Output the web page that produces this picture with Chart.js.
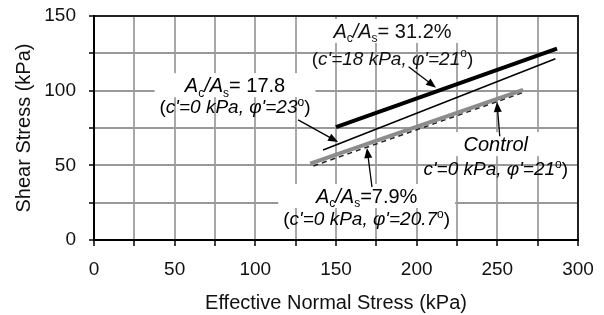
<!DOCTYPE html>
<html lang="en">
<head>
<meta charset="UTF-8">
<title>Shear Stress vs Effective Normal Stress</title>
<script src="https://cdn.jsdelivr.net/npm/chart.js"></script>
<style>
    * { margin: 0; padding: 0; box-sizing: border-box; }
    body { background: #ffffff; width: 604px; height: 315px; overflow: hidden; }
    #wrap { position: relative; width: 604px; height: 315px; }
</style>
</head>
<body>
<div id="wrap"><canvas id="shearChart"></canvas></div>
<script>
    // failure envelopes (kPa)
    const thickX = [150, 287];      // Ac/As = 31.2%
    const thickY = [75.6, 128.2];
    const thinX = [142, 286];       // Ac/As = 17.8
    const thinY = [60.3, 121.4];
    const grayX = [134, 266];       // Ac/As = 7.9%
    const grayY = [51.2, 100.6];
    const controlX = [136, 266];    // Control
    const controlY = [49.6, 98.8];

    const xTicks = [0, 50, 100, 150, 200, 250, 300];
    const yTicks = [0, 50, 100, 150];

    const FONT = 'Arial, "Liberation Sans", sans-serif';
    const INK = '#111111';

    const toPoints = (xs, ys) => xs.map((x, i) => ({ x: x, y: ys[i] }));

    // labels: each line is a list of [text, style]; n normal, i italic, s subscript, o superscript
    const labels = [
        {
            x: 185, y1: 135.3, y2: 117.5,
            line1: [['A', 'i'], ['c', 's'], ['/', 'i'], ['A', 'i'], ['s', 's'], ['= 31.2%', 'n']],
            line2: [['(', 'n'], ['c\'=18 kPa, \u03c6\'=21', 'i'], ['o', 'o'], [')', 'n']],
            arrow: [195, 116, 212, 102]
        },
        {
            x: 87.4, y1: 99, y2: 85,
            line1: [['A', 'i'], ['c', 's'], ['/', 'i'], ['A', 'i'], ['s', 's'], ['= 17.8', 'n']],
            line2: [['(', 'n'], ['c\'=0 kPa, \u03c6\'=23', 'i'], ['o', 'o'], [')', 'n']],
            arrow: [126.5, 80.4, 151.3, 65.6]
        },
        {
            x: 169, y1: 24.8, y2: 10,
            line1: [['A', 'i'], ['c', 's'], ['/', 'i'], ['A', 'i'], ['s', 's'], ['=7.9%', 'n']],
            line2: [['(', 'n'], ['c\'=0 kPa, \u03c6\'=20.7', 'i'], ['o', 'o'], [')', 'n']],
            arrow: [172.3, 35.5, 169.2, 61.6]
        },
        {
            x: 249, y1: 59.5, y2: 43.5,
            line1: [['Control', 'i']],
            line2: [['c\'=0 kPa, \u03c6\'=21', 'i'], ['o', 'o'], [')', 'n']],
            arrow: [251.5, 69.5, 249.8, 92.4]
        }
    ];

    function segFont(style, size) {
        if (style === 'i') return 'italic ' + size + 'px ' + FONT;
        if (style === 's' || style === 'o') return Math.round(size * 0.62) + 'px ' + FONT;
        return size + 'px ' + FONT;
    }

    function lineWidth(ctx, segs, size) {
        let w = 0;
        segs.forEach(s => { ctx.font = segFont(s[1], size); w += ctx.measureText(s[0]).width; });
        return w;
    }

    function drawLine(ctx, segs, cx, base, size) {
        let x = cx - lineWidth(ctx, segs, size) / 2;
        ctx.textAlign = 'left';
        ctx.textBaseline = 'alphabetic';
        segs.forEach(s => {
            ctx.font = segFont(s[1], size);
            let dy = 0;
            if (s[1] === 's') dy = size * 0.22;
            if (s[1] === 'o') dy = -size * 0.38;
            ctx.fillText(s[0], x, base + dy);
            x += ctx.measureText(s[0]).width;
        });
    }

    function drawArrow(ctx, x1, y1, x2, y2) {
        const ang = Math.atan2(y2 - y1, x2 - x1);
        const len = 10, half = 4;
        ctx.strokeStyle = '#000';
        ctx.lineWidth = 1.3;
        ctx.beginPath();
        ctx.moveTo(x1, y1);
        ctx.lineTo(x2 - Math.cos(ang) * len * 0.8, y2 - Math.sin(ang) * len * 0.8);
        ctx.stroke();
        ctx.fillStyle = '#000';
        ctx.beginPath();
        ctx.moveTo(x2, y2);
        ctx.lineTo(x2 - Math.cos(ang) * len - Math.sin(ang) * half, y2 - Math.sin(ang) * len + Math.cos(ang) * half);
        ctx.lineTo(x2 - Math.cos(ang) * len + Math.sin(ang) * half, y2 - Math.sin(ang) * len - Math.cos(ang) * half);
        ctx.closePath();
        ctx.fill();
    }

    // white boxes behind labels, frame, text and arrows
    const annotate = {
        id: 'annotate',
        beforeDatasetsDraw(chart) {
            const ctx = chart.ctx, xs = chart.scales.x, ys = chart.scales.y;
            ctx.save();
            labels.forEach(l => {
                const cx = xs.getPixelForValue(l.x);
                const b1 = ys.getPixelForValue(l.y1);
                const w = Math.max(lineWidth(ctx, l.line1, 20), lineWidth(ctx, l.line2, 19)) + 10;
                ctx.fillStyle = '#ffffff';
                ctx.fillRect(cx - w / 2, b1 - 19, w, 24);
            });
            ctx.restore();
        },
        afterDatasetsDraw(chart) {
            const ctx = chart.ctx, xs = chart.scales.x, ys = chart.scales.y;
            const a = chart.chartArea;
            ctx.save();
            ctx.strokeStyle = '#222';
            ctx.lineWidth = 2;
            ctx.beginPath();
            ctx.moveTo(a.left, a.top);
            ctx.lineTo(a.right, a.top);
            ctx.lineTo(a.right, a.bottom);
            ctx.stroke();
            ctx.fillStyle = INK;
            labels.forEach(l => {
                const cx = xs.getPixelForValue(l.x);
                drawLine(ctx, l.line1, cx, ys.getPixelForValue(l.y1), 20);
                drawLine(ctx, l.line2, cx, ys.getPixelForValue(l.y2), 19);
                drawArrow(ctx,
                    xs.getPixelForValue(l.arrow[0]), ys.getPixelForValue(l.arrow[1]),
                    xs.getPixelForValue(l.arrow[2]), ys.getPixelForValue(l.arrow[3]));
            });
            ctx.restore();
        }
    };

    const ctx = document.getElementById('shearChart').getContext('2d');

    new Chart(ctx, {
        type: 'scatter',
        data: {
            datasets: [
                {
                    label: 'Ac/As = 31.2%',
                    data: toPoints(thickX, thickY),
                    showLine: true,
                    borderColor: '#000000',
                    borderWidth: 4,
                    pointRadius: 0
                },
                {
                    label: 'Ac/As = 17.8',
                    data: toPoints(thinX, thinY),
                    showLine: true,
                    borderColor: '#000000',
                    borderWidth: 1.5,
                    pointRadius: 0
                },
                {
                    label: 'Ac/As = 7.9%',
                    data: toPoints(grayX, grayY),
                    showLine: true,
                    borderColor: '#8c8c8c',
                    borderWidth: 4,
                    pointRadius: 0
                },
                {
                    label: 'Control',
                    data: toPoints(controlX, controlY),
                    showLine: true,
                    borderColor: '#222222',
                    borderWidth: 1.5,
                    borderDash: [5, 4],
                    pointRadius: 0
                }
            ]
        },
        options: {
            responsive: true,
            maintainAspectRatio: false,
            animation: false,
            layout: { padding: { left: 0, right: 26, top: 16, bottom: 0 } },
            plugins: {
                legend: { display: false },
                tooltip: { enabled: false }
            },
            scales: {
                x: {
                    type: 'linear',
                    min: 0,
                    max: 300,
                    afterBuildTicks: s => { s.ticks = []; for (let v = 0; v <= 300; v += 25) s.ticks.push({ value: v }); },
                    ticks: {
                        color: INK,
                        font: { size: 19, family: FONT },
                        padding: 12,
                        maxRotation: 0,
                        autoSkip: false,
                        callback: v => xTicks.includes(v) ? String(v) : ''
                    },
                    grid: { color: '#a8a8a8', lineWidth: 2, tickColor: '#000', tickWidth: 1.5, tickLength: 6 },
                    border: { color: '#000', width: 2, z: 1 },
                    title: {
                        display: true,
                        text: 'Effective Normal Stress (kPa)',
                        color: INK,
                        font: { size: 20, family: FONT },
                        padding: { top: 6, bottom: 0 }
                    },
                    afterFit: s => { s.height = 75; s.paddingLeft = 0; s.paddingRight = 0; }
                },
                y: {
                    type: 'linear',
                    min: 0,
                    max: 150,
                    afterBuildTicks: s => { s.ticks = []; for (let v = 0; v <= 150; v += 25) s.ticks.push({ value: v }); },
                    ticks: {
                        color: INK,
                        font: { size: 19, family: FONT },
                        padding: 13,
                        autoSkip: false,
                        callback: v => yTicks.includes(v) ? String(v) : ''
                    },
                    grid: { color: '#999999', lineWidth: 2, tickColor: '#000', tickWidth: 1.5, tickLength: 5 },
                    border: { color: '#000', width: 2, z: 1 },
                    title: {
                        display: true,
                        text: 'Shear Stress (kPa)',
                        color: INK,
                        font: { size: 20, family: FONT },
                        padding: { top: 12, bottom: 0 }
                    },
                    afterFit: s => { s.width = 94; s.paddingTop = 0; s.paddingBottom = 0; }
                }
            }
        },
        plugins: [annotate]
    });
</script>
</body>
</html>
